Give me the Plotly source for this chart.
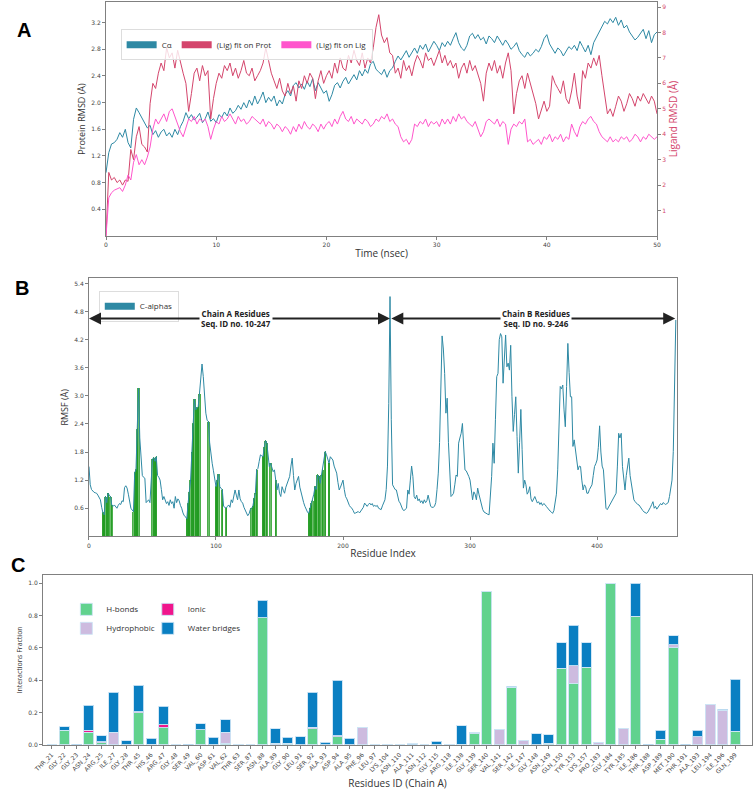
import numpy as np
import plotly.graph_objects as go

# ---------------- panel A : RMSD, one frame every 0.25 ns
time_ns = np.linspace(0, 50, 201)

ca_rmsd = [
    0.95, 1.25, 1.38, 1.40, 1.45, 1.55, 1.48, 1.60, 1.40, 1.32, 1.75, 1.92, 1.85, 1.78, 1.70, 1.62, 1.66, 1.52, 1.58, 1.48,
    1.56, 1.60, 1.50, 1.55, 1.48, 1.60, 1.52, 1.64, 1.72, 1.85, 1.76, 1.82, 1.74, 1.78, 1.84, 1.70, 1.76, 1.86, 1.72, 1.76,
    1.70, 1.82, 1.78, 1.86, 1.80, 1.92, 1.84, 1.88, 1.96, 1.90, 2.00, 1.92, 2.04, 1.96, 2.10, 1.98, 2.06, 2.16, 2.00, 2.08,
    2.02, 2.10, 1.95, 2.04, 1.98, 2.12, 2.18, 2.10, 2.26, 2.30, 2.22, 2.28, 2.20, 2.32, 2.24, 2.36, 2.18, 2.30, 2.22, 2.14,
    2.18, 2.02, 2.12, 2.26, 2.30, 2.22, 2.32, 2.38, 2.28, 2.36, 2.42, 2.34, 2.48, 2.40, 2.50, 2.44, 2.58, 2.62, 2.50, 2.46,
    2.42, 2.50, 2.38, 2.48, 2.52, 2.62, 2.70, 2.64, 2.72, 2.78, 2.68, 2.76, 2.82, 2.74, 2.86, 2.80, 2.88, 2.76, 2.84, 2.92,
    2.86, 2.78, 2.90, 2.84, 2.92, 2.86, 2.96, 3.05, 2.90, 2.82, 2.78, 2.86, 3.00, 3.04, 2.96, 3.02, 2.94, 2.98, 2.88, 3.00,
    2.96, 2.90, 3.00, 2.92, 2.86, 2.94, 2.88, 2.80, 2.84, 2.90, 2.78, 2.72, 2.68, 2.76, 2.70, 2.74, 2.80, 2.76, 2.84, 2.96,
    3.02, 2.88, 2.80, 2.74, 2.82, 2.78, 2.70, 2.76, 2.84, 2.80, 2.86, 2.78, 2.92, 2.84, 2.76, 2.86, 2.72, 2.90, 2.98, 3.06,
    3.14, 3.22, 3.18, 3.26, 3.20, 3.28, 3.16, 3.24, 3.12, 3.16, 3.06, 3.00, 2.94, 2.98, 3.04, 3.10, 2.96, 3.08, 2.90, 3.02,
    3.06,
]

lig_fit_prot = [
    0.0, 2.5, 2.2, 2.3, 2.1, 2.2, 2.0, 2.2, 2.15, 3.4, 3.0, 3.9, 4.3, 3.6, 3.5, 3.3, 5.2, 6.0, 5.8, 6.4,
    6.8, 6.5, 7.4, 7.0, 7.2, 6.6, 7.3, 6.8, 6.4, 6.0, 4.9, 5.6, 6.4, 6.6, 6.1, 6.7, 6.3, 6.5, 4.6, 5.4,
    6.0, 6.4, 6.2, 6.7, 6.5, 6.8, 6.3, 6.6, 6.2, 6.5, 6.9, 6.4, 6.3, 6.6, 6.1, 6.3, 6.5, 6.8, 7.4, 6.9,
    6.4, 6.1, 5.8, 6.2, 5.7, 5.5, 6.0, 5.6, 5.9, 5.3, 6.1, 5.8, 6.3, 6.0, 6.4, 6.2, 5.4, 6.1, 6.5, 6.0,
    6.3, 6.5, 6.2, 6.8, 6.4, 7.0, 6.6, 6.5, 7.1, 6.8, 7.3, 6.9, 6.7, 7.2, 6.6, 7.0, 6.8, 7.4, 8.2, 8.7,
    7.9, 7.6, 7.8, 7.2, 7.1, 6.4, 6.6, 6.2, 6.9, 6.5, 6.7, 6.3, 6.8, 7.1, 6.9, 6.6, 7.2, 6.9, 7.0, 6.7,
    7.0, 7.3, 6.8, 7.1, 6.7, 6.9, 6.6, 6.8, 6.2, 6.6, 6.8, 6.4, 6.9, 6.5, 6.7, 6.3, 6.0, 5.3, 6.4, 6.8,
    6.5, 6.9, 6.4, 6.7, 6.2, 6.8, 7.2, 6.5, 4.8, 5.6, 6.1, 6.3, 5.8, 6.4, 6.0, 5.5, 5.2, 4.6, 5.0, 5.3,
    4.9, 5.1, 6.3, 6.0, 5.8, 5.6, 6.1, 5.4, 5.2, 5.7, 6.4, 5.5, 5.0, 6.5, 6.2, 6.8, 6.6, 7.0, 6.7, 7.1,
    6.3, 5.5, 4.8, 5.0, 4.7, 5.1, 5.5, 5.3, 4.9, 5.2, 5.6, 5.4, 5.1, 5.5, 5.3, 5.6, 5.4, 5.2, 5.5, 5.3,
    4.8,
]

lig_fit_lig = [
    0.0, 1.5, 1.7, 1.8, 1.85, 1.9, 1.75, 2.0, 2.4, 2.2, 2.9, 3.2, 2.8, 3.0, 2.8, 3.1, 3.5, 4.2, 4.6, 4.4,
    4.6, 4.8, 4.5, 4.9, 5.0, 4.7, 4.4, 4.1, 3.9, 4.3, 4.6, 4.5, 4.7, 4.4, 4.6, 4.5, 4.6, 4.3, 3.8, 4.2,
    4.5, 4.4, 4.7, 4.5, 4.6, 4.8, 4.6, 4.4, 4.7, 4.5, 4.6, 4.4, 4.5, 4.7, 4.6, 4.5, 4.4, 4.6, 4.3, 4.5,
    4.4, 4.2, 4.4, 4.3, 4.1, 4.3, 4.2, 4.0, 4.3, 4.1, 4.4, 4.2, 4.5, 4.3, 4.2, 4.4, 4.3, 4.1, 4.4, 4.2,
    4.4, 4.5, 4.3, 4.6, 4.4, 4.7, 4.9, 4.6, 4.5, 4.7, 4.4, 4.6, 4.5, 4.4, 4.6, 4.5, 4.3, 4.4, 4.6, 4.5,
    4.7, 4.6, 4.8, 4.5, 4.6, 4.4, 4.3, 3.9, 3.7, 3.8, 3.6, 3.8, 4.4, 4.3, 4.5, 4.4, 4.6, 4.3, 4.5, 4.4,
    4.5, 4.3, 4.6, 4.4, 4.6, 4.4, 4.7, 4.5, 4.8, 4.6, 4.7, 4.5, 4.4, 4.3, 4.5, 4.2, 3.9, 4.1, 4.5, 4.6,
    4.5, 4.4, 4.6, 4.3, 4.5, 4.4, 3.6, 4.2, 4.4, 4.3, 4.5, 4.4, 4.6, 3.7, 3.8, 3.6, 3.7, 3.8, 3.6, 3.9,
    3.8, 4.0, 3.7, 3.9, 3.8, 4.0, 3.7, 3.9, 3.8, 4.4, 4.1, 3.9, 4.3, 4.5, 4.4, 4.6, 4.7, 4.5, 4.4, 4.1,
    3.9, 3.8, 3.7, 3.9, 3.7, 3.8, 3.7, 3.9, 3.8, 3.9, 3.7, 3.8, 4.0, 3.9, 3.7, 3.9, 3.8, 4.0, 3.9, 3.8,
    3.9,
]

# ---------------- panel B : C-alpha RMSF per residue index
rmsf = [
    1.49, 1.10, 1.00, 0.96, 0.94, 0.93, 0.92, 0.88, 0.84, 0.78, 0.62, 0.50, 0.46, 0.85, 0.72, 0.92, 0.88, 0.84, 0.66, 0.64,
    0.67, 0.64, 0.60, 0.66, 0.70, 0.68, 0.76, 0.74, 1.04, 1.08, 1.03, 0.90, 0.72, 0.60, 0.56, 0.53, 1.36, 1.42, 2.30, 3.16,
    2.10, 1.60, 1.30, 1.26, 1.24, 0.72, 0.74, 0.78, 0.72, 1.10, 1.65, 1.68, 1.60, 1.70, 1.30, 1.26, 1.20, 1.00, 0.78, 0.85,
    0.76, 0.70, 0.74, 0.66, 0.78, 0.70, 0.74, 0.60, 0.85, 0.72, 0.80, 0.76, 0.66, 0.60, 0.50, 0.44, 0.42, 0.37, 0.70, 0.95,
    1.20, 1.80, 2.40, 2.93, 2.70, 2.75, 2.77, 3.05, 3.40, 3.68, 3.41, 3.00, 2.63, 2.48, 2.45, 2.00, 1.70, 1.56, 1.40, 1.20,
    1.06, 1.20, 1.33, 1.06, 1.02, 0.99, 0.64, 0.62, 0.60, 0.64, 0.67, 0.62, 0.78, 0.72, 0.85, 0.99, 0.88, 0.78, 0.99, 0.80,
    0.74, 0.71, 0.62, 0.57, 0.50, 0.44, 0.48, 0.57, 0.60, 0.64, 0.80, 0.92, 1.42, 1.45, 1.60, 1.74, 1.72, 1.70, 1.90, 2.04,
    1.99, 1.75, 1.49, 1.56, 1.45, 1.38, 1.42, 1.20, 0.99, 1.13, 0.92, 0.85, 1.06, 0.98, 0.92, 1.05, 1.13, 1.20, 1.28, 1.50,
    1.67, 1.30, 0.99, 1.13, 1.20, 1.28, 1.05, 0.92, 0.80, 0.72, 0.64, 0.56, 0.52, 0.49, 0.60, 0.71, 0.76, 0.90, 1.06, 1.00,
    1.31, 1.28, 1.13, 1.30, 1.42, 1.60, 1.81, 1.74, 1.65, 1.56, 1.70, 1.66, 1.63, 1.50, 1.42, 1.35, 1.15, 0.99, 1.05, 1.13,
    1.20, 1.00, 0.85, 0.80, 0.71, 0.66, 0.62, 0.60, 0.55, 0.49, 0.50, 0.52, 0.53, 0.50, 0.55, 0.57, 0.62, 0.71, 0.66, 0.64,
    0.68, 0.71, 0.67, 0.70, 0.64, 0.66, 0.64, 0.66, 0.60, 0.58, 0.57, 0.65, 0.71, 0.78, 1.00, 1.50, 2.84, 5.12, 2.49, 1.10,
    1.05, 1.00, 0.99, 0.86, 0.75, 0.71, 0.64, 0.57, 0.55, 0.58, 0.60, 0.99, 0.90, 1.20, 1.50, 1.28, 0.85, 0.80, 0.88, 0.76,
    0.80, 0.72, 0.76, 0.70, 0.78, 0.72, 0.76, 0.88, 0.78, 0.64, 0.62, 0.62, 0.64, 0.72, 1.00, 1.35, 2.00, 3.00, 4.28, 4.00,
    3.48, 2.63, 2.95, 2.00, 1.20, 0.85, 0.88, 0.92, 1.10, 1.31, 1.28, 1.99, 2.10, 2.20, 2.41, 1.90, 1.42, 1.40, 1.35, 1.28,
    1.20, 0.99, 0.78, 0.95, 0.90, 0.78, 1.03, 0.90, 0.78, 0.66, 0.57, 0.52, 0.50, 0.49, 0.47, 0.46, 0.90, 1.28, 1.99, 1.56,
    2.50, 3.41, 3.48, 4.20, 4.33, 4.26, 3.27, 3.80, 4.30, 3.62, 3.70, 3.55, 4.08, 2.98, 2.24, 2.60, 2.98, 2.13, 1.35, 2.00,
    2.71, 1.85, 1.03, 1.20, 1.10, 0.90, 0.95, 1.06, 0.80, 0.74, 0.80, 0.85, 0.78, 0.71, 0.74, 0.68, 0.72, 0.66, 0.70, 0.68,
    0.64, 0.60, 0.58, 0.54, 0.52, 0.49, 0.55, 0.71, 0.90, 1.42, 2.40, 3.20, 3.15, 3.23, 2.70, 2.34, 3.20, 4.12, 3.50, 2.98,
    2.98, 1.92, 2.06, 1.80, 1.60, 1.42, 1.50, 1.49, 1.20, 0.99, 1.10, 1.06, 0.92, 0.92, 1.00, 1.06, 1.10, 1.30, 1.49, 1.55,
    1.63, 1.90, 2.36, 1.80, 1.50, 1.42, 1.00, 0.60, 0.57, 0.62, 0.66, 0.71, 0.76, 0.80, 0.88, 0.92, 1.50, 2.20, 2.10, 2.20,
    1.49, 1.20, 0.99, 1.30, 1.50, 1.67, 1.30, 1.10, 0.90, 0.78, 0.74, 0.70, 0.68, 0.67, 0.62, 0.58, 0.55, 0.52, 0.50, 0.49,
    0.52, 0.56, 0.62, 0.68, 0.74, 0.60, 0.64, 0.58, 0.62, 0.66, 0.70, 0.67, 0.72, 0.70, 0.68, 0.70, 0.72, 0.85, 1.00, 1.20,
    1.81, 3.00, 4.62,
]
residue_index = np.arange(len(rmsf))
chain_a_first = 10   # chain A residue 10 -> index 0

# ---------------- panel C : protein-ligand contacts
residues = [
    "THR_21", "GLY_22", "GLY_23", "ASN_24", "ARG_25", "ILE_27", "GLY_28", "THR_45",
    "HIS_46", "ARG_47", "GLY_48", "SER_49", "VAL_60", "ASP_61", "VAL_62", "THR_63",
    "SER_87", "ASN_88", "ALA_89", "GLY_90", "LEU_91", "SER_92", "ALA_93", "ASP_94",
    "ALA_95", "PHE_96", "LEU_97", "LYS_104", "ASN_110", "ALA_111", "ASN_112", "GLY_115",
    "ARG_118", "ILE_138", "GLY_139", "SER_140", "VAL_141", "SER_142", "ILE_147", "GLY_148",
    "ASN_149", "GLN_150", "TYR_153", "LYS_157", "PRO_183", "GLY_184", "TYR_185", "ILE_186",
    "THR_188", "ASP_189", "MET_190", "THR_191", "ALA_193", "LEU_194", "ILE_196", "GLN_199",
]
hbonds = [
    0, 0.09, 0, 0.08, 0.015, 0, 0, 0.2,
    0.005, 0.105, 0, 0, 0.095, 0, 0.01, 0,
    0, 0.785, 0, 0.01, 0, 0.1, 0, 0.05,
    0, 0, 0, 0, 0, 0, 0, 0,
    0, 0, 0.07, 0.945, 0, 0.355, 0, 0,
    0.01, 0.475, 0.38, 0.48, 0, 1.0, 0, 0.795,
    0, 0.035, 0.6, 0, 0, 0, 0, 0.085,
]
hydrophobic = [
    0, 0, 0, 0, 0, 0.08, 0, 0,
    0, 0, 0, 0, 0, 0, 0.07, 0,
    0, 0, 0.01, 0, 0, 0, 0, 0,
    0, 0.11, 0, 0, 0, 0, 0, 0,
    0, 0.005, 0.005, 0, 0.095, 0, 0.025, 0,
    0, 0, 0.11, 0, 0.015, 0, 0.1, 0,
    0, 0, 0.02, 0, 0.05, 0.25, 0.215, 0,
]
ionic = [
    0, 0, 0, 0.01, 0.005, 0, 0, 0.005,
    0, 0.02, 0, 0, 0, 0, 0, 0,
    0, 0, 0, 0, 0, 0.008, 0, 0.008,
    0, 0, 0, 0, 0, 0, 0, 0,
    0, 0, 0, 0, 0, 0, 0, 0,
    0, 0, 0, 0, 0, 0, 0, 0,
    0, 0, 0, 0, 0, 0, 0, 0,
]
water_bridges = [
    0, 0.022, 0.003, 0.155, 0.038, 0.245, 0.025, 0.165,
    0.035, 0.115, 0, 0.003, 0.035, 0.048, 0.075, 0.002,
    0, 0.11, 0.09, 0.037, 0.05, 0.217, 0.018, 0.342,
    0.04, 0, 0, 0.002, 0, 0.008, 0, 0.022,
    0.002, 0.115, 0, 0, 0, 0.008, 0, 0.07,
    0.053, 0.155, 0.25, 0.15, 0, 0, 0, 0.205,
    0.005, 0.055, 0.055, 0.003, 0.04, 0, 0.005, 0.32,
]

TEAL = "#2e89a4"
CRIMSON = "#d4456c"
PINK = "#ff55cc"
AX = "#808080"
FONT = "Open Sans"

fig = go.Figure()

# --- A
fig.add_trace(go.Scatter(x=time_ns, y=ca_rmsd, mode="lines", line=dict(color=TEAL, width=1),
                         showlegend=False, xaxis="x", yaxis="y"))
fig.add_trace(go.Scatter(x=time_ns, y=lig_fit_prot, mode="lines", line=dict(color=CRIMSON, width=1),
                         showlegend=False, xaxis="x", yaxis="y2"))
fig.add_trace(go.Scatter(x=time_ns, y=lig_fit_lig, mode="lines", line=dict(color=PINK, width=1),
                         showlegend=False, xaxis="x", yaxis="y2"))
# legend patches
for name, col in [("Cα", TEAL), ("(Lig) fit on Prot", CRIMSON), ("(Lig) fit on Lig", PINK)]:
    fig.add_trace(go.Scatter(x=[None], y=[None], mode="lines", line=dict(color=col, width=7),
                             name=name, legend="legend", xaxis="x", yaxis="y"))

# --- B
contact_idx = [int(r.split("_")[1]) - chain_a_first for r in residues]
fig.add_trace(go.Bar(x=contact_idx, y=[rmsf[i] for i in contact_idx], width=1,
                     marker=dict(color="rgba(70,175,70,0.8)", line=dict(color="#1f9a1f", width=0.8)),
                     showlegend=False, xaxis="x2", yaxis="y3"))
fig.add_trace(go.Scatter(x=residue_index, y=rmsf, mode="lines", line=dict(color=TEAL, width=1),
                         showlegend=False, xaxis="x2", yaxis="y3"))
fig.add_trace(go.Scatter(x=[None], y=[None], mode="lines", line=dict(color=TEAL, width=7),
                         name="C-alphas", legend="legend2", xaxis="x2", yaxis="y3"))

# --- C
edge = dict(color="rgba(205,228,245,0.9)", width=1)
for name, vals, col, lg in [("H-bonds", hbonds, "#61d28e", "legend3"),
                            ("Hydrophobic", hydrophobic, "#cdbbdf", "legend3"),
                            ("Ionic", ionic, "#f0158c", "legend4"),
                            ("Water bridges", water_bridges, "#0a7fc2", "legend4")]:
    fig.add_trace(go.Bar(x=residues, y=vals, name=name, width=0.8,
                         marker=dict(color=col, line=edge), legend=lg,
                         xaxis="x3", yaxis="y4"))

tick = dict(size=6, color="#444", family="DejaVu Sans")
common = dict(showline=True, linecolor=AX, linewidth=1, mirror=True, showgrid=False, automargin=False,
              zeroline=False, ticks="outside", ticklen=3, tickcolor=AX, tickfont=tick)

leg = dict(xanchor="left", yanchor="top", traceorder="normal", itemwidth=30)

fig.update_layout(
    width=754, height=790,
    margin=dict(l=0, r=0, t=0, b=0, autoexpand=False),
    paper_bgcolor="white", plot_bgcolor="white",
    font=dict(family=FONT, color="#333"),
    barmode="stack",
    xaxis=dict(domain=[0.1406, 0.8714], anchor="y", range=[0, 50], tickvals=[0, 10, 20, 30, 40, 50],
               title=dict(text="Time (nsec)", font=dict(size=10), standoff=2), **common),
    yaxis=dict(domain=[0.7013, 0.9975], anchor="x", range=[0, 3.51],
               tickvals=[0.4, 0.8, 1.2, 1.6, 2.0, 2.4, 2.8, 3.2], tickformat=".1f",
               title=dict(text="Protein RMSD (Å)", font=dict(size=9), standoff=4), **common),
    yaxis2=dict(overlaying="y", side="right", anchor="x", range=[0, 9.2], automargin=False,
                tickvals=list(range(1, 10)), showline=False, showgrid=False, zeroline=False,
                ticks="outside", ticklen=3, tickcolor=AX,
                tickfont=dict(size=6, color=CRIMSON, family="DejaVu Sans"),
                title=dict(text="Ligand RMSD (Å)", font=dict(size=10, color=CRIMSON), standoff=4)),
    xaxis2=dict(domain=[0.118, 0.898], anchor="y3", range=[0, 463], tickvals=[0, 100, 200, 300, 400],
                title=dict(text="Residue Index", font=dict(size=10), standoff=2), **common),
    yaxis3=dict(domain=[0.3211, 0.6477], anchor="x2", range=[0, 5.51],
                tickvals=[0.6, 1.2, 1.8, 2.4, 3.0, 3.6, 4.2, 4.8, 5.4], tickformat=".1f",
                title=dict(text="RMSF (Å)", font=dict(size=9), standoff=4), **common),
    xaxis3=dict(domain=[0.057, 0.9973], anchor="y4", type="category", range=[-0.7, 56.35],
                tickangle=-45, title=dict(text="Residues ID (Chain A)", font=dict(size=10), standoff=2),
                **common),
    yaxis4=dict(domain=[0.057, 0.2722], anchor="x3", range=[0, 1.05],
                tickvals=[0, 0.2, 0.4, 0.6, 0.8, 1.0], tickformat=".1f",
                title=dict(text="Interactions Fraction", font=dict(size=7), standoff=4), **common),
    legend=dict(x=0.160, y=0.963, orientation="h", font=dict(size=8),
                bgcolor="rgba(255,255,255,0.8)", bordercolor="#ddd", borderwidth=1, **leg),
    legend2=dict(x=0.131, y=0.632, font=dict(size=8),
                 bgcolor="rgba(255,255,255,0.8)", bordercolor="#ddd", borderwidth=1, **leg),
    legend3=dict(x=0.088, y=0.247, font=dict(size=8), bgcolor="rgba(0,0,0,0)",
                 tracegroupgap=0, **leg),
    legend4=dict(x=0.196, y=0.247, font=dict(size=8), bgcolor="rgba(0,0,0,0)",
                 tracegroupgap=0, **leg),
)

# chain arrows in panel B
arrow = dict(xref="x2", yref="y3", axref="x2", ayref="y3", text="", showarrow=True,
             arrowhead=2, arrowsize=1.2, arrowwidth=2, arrowcolor="#222")
for x0, x1, xc in [(0, 237, 116), (238, 461.5, 352)]:
    fig.add_annotation(x=x0, y=4.65, ax=xc, ay=4.65, **arrow)
    fig.add_annotation(x=x1, y=4.65, ax=xc, ay=4.65, **arrow)
fig.add_annotation(x=116, y=4.65, xref="x2", yref="y3", showarrow=False, bgcolor="white",
                   text="<b>Chain A Residues<br>Seq. ID no. 10-247</b>", font=dict(size=8, color="#222"))
fig.add_annotation(x=352, y=4.65, xref="x2", yref="y3", showarrow=False, bgcolor="white",
                   text="<b>Chain B Residues<br>Seq. ID no. 9-246</b>", font=dict(size=8, color="#222"))

# panel letters
for letter, px, py in [("A", 15, 17), ("B", 13, 288), ("C", 9, 578)]:
    fig.add_annotation(x=px / 754, y=1 - py / 790, xref="paper", yref="paper", text="<b>%s</b>" % letter,
                       showarrow=False, font=dict(size=20, color="black", family="Liberation Sans"))

# page body has a default 8px margin; drop it so the figure fills the window
fig.write_html("out.html", config={"displayModeBar": False},
               post_script="document.body.style.margin='0';")
